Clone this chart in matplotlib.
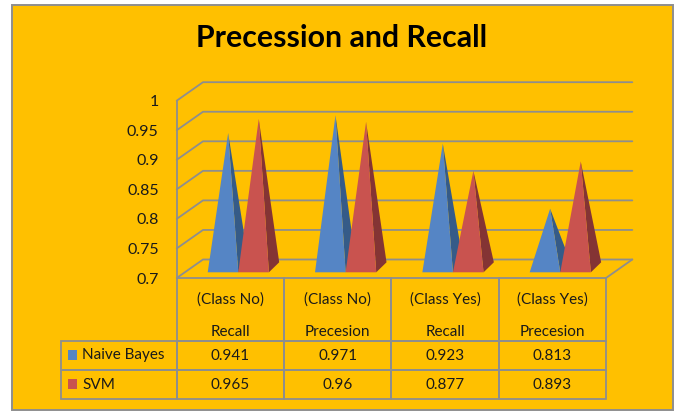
import matplotlib
matplotlib.use("Agg")
import matplotlib.pyplot as plt
from matplotlib.patches import Polygon, Rectangle
from matplotlib.transforms import IdentityTransform

classes = ['(Class No)', '(Class No)', '(Class Yes)', '(Class Yes)']
metrics = ['Recall', 'Precesion', 'Recall', 'Precesion']
series_names = ['Naive Bayes', 'SVM']
naive_bayes = [0.941, 0.971, 0.923, 0.813]
svm = [0.965, 0.96, 0.877, 0.893]
y_ticks = [0.7, 0.75, 0.8, 0.85, 0.9, 0.95, 1]
y_labels = ['0.7', '0.75', '0.8', '0.85', '0.9', '0.95', '1']

GOLD = '#FFC000'; GRID = '#8E8E8E'; TEXT = '#1A1A1A'
BLUE = ('#5585C5', '#355B88'); RED = ('#C9534F', '#843434')

W, H = 675, 411
plt.rcParams['font.family'] = ['Lato', 'DejaVu Sans']
fig = plt.figure(figsize=(W / 100, H / 100), dpi=100, facecolor='white')

# gold chart area with its grey border, kept behind the axes
fig.add_artist(Rectangle((12 / W, 1 - 410 / H), 661 / W, 405 / H, transform=fig.transFigure,
                         fc=GOLD, ec=GRID, lw=1.4, zorder=-1))
fig.text(342 / W, 1 - 38 / H, 'Precession and Recall', ha='center', va='center',
         fontsize=21.8, fontweight='bold', color='black')

# axes = front plane of the 3d box
L, R, T, B = 176.7, 606, 100.7, 278
ax = fig.add_axes([L / W, 1 - B / H, (R - L) / W, (B - T) / H])
ax.patch.set_alpha(0)
ax.set_xlim(0, 4); ax.set_ylim(0.7, 1)
for s in ax.spines.values():
    s.set_visible(False)
ax.set_xticks([])
ax.set_yticks(y_ticks, y_labels, fontsize=11.5, color=TEXT)
ax.tick_params(axis='y', length=0, pad=13)

px_x = 4 / (R - L); px_y = 0.3 / (B - T)
dx, dy = 26.3 * px_x, 18.5 * px_y

# walls
line = dict(color=GRID, lw=1.3, clip_on=False, solid_capstyle='round', zorder=1)
for v in y_ticks:
    ax.plot([0, dx, 4 + dx], [v, v + dy, v + dy], **line)
ax.plot([0, 0], [0.7, 1], **line)
ax.plot([4, 4 + dx], [0.7, 0.7 + dy], **line)


def pyramid(x0, value, colors, z):
    w = 30.6 * px_x
    base = 0.7 + 5.7 * px_y
    ddx, ddy = 10.3 * px_x, 10 * px_y
    apex = (x0 + w / 2 + ddx / 2, value + 2.5 * px_y)
    ax.add_patch(Polygon([(x0 + w, base), (x0 + w + ddx, base + ddy), apex],
                         fc=colors[1], ec='none', zorder=z, clip_on=False))
    ax.add_patch(Polygon([(x0, base), (x0 + w, base), apex],
                         fc=colors[0], ec='none', zorder=z + 0.1, clip_on=False))


for i, (a, b) in enumerate(zip(naive_bayes, svm)):
    left = i + (207.7 - L) * px_x
    pyramid(left, a, BLUE, 3)
    pyramid(left + 30.6 * px_x, b, RED, 4)

# data table under the axes
rows = [[''] + classes, [''] + metrics,
        series_names[:1] + [str(v) for v in naive_bayes],
        series_names[1:] + [str(v) for v in svm]]
t_left = 61
t_bottom = 399
tb = ax.table(cellText=rows, cellLoc='center', colWidths=[L - t_left] + [(R - L) / 4] * 4,
              bbox=[(t_left - L) / (R - L), (B - t_bottom) / (B - T),
                    (R - t_left) / (R - L), (t_bottom - B) / (B - T)])
tb.auto_set_font_size(False)
row_h = [44, 19, 29, 29]
for (r, c), cell in tb.get_celld().items():
    cell.set_height(row_h[r])
    cell.set_facecolor('none')
    cell.set_edgecolor(GRID)
    cell.set_linewidth(1.3)
    cell.get_text().set_fontsize(11)
    cell.get_text().set_color(TEXT)
    if c == 0 and r < 2:
        cell.visible_edges = ''
    elif r == 0:
        cell.visible_edges = 'LRT'
    elif r == 1:
        cell.visible_edges = 'LRB'
    if c == 0 and r >= 2:
        cell.get_text().set_ha('left')
        cell.PAD = 21 / (L - t_left)

# legend keys in the table's first column
for r_top, col in zip([350, 379], [BLUE[0], RED[0]]):
    ax.add_patch(Rectangle((67.5, H - r_top - 9.5), 9.5, 9.5, fc=col, ec='none', clip_on=False,
                           transform=IdentityTransform(), zorder=5))

fig.savefig('out.png', dpi=100, facecolor='white')
